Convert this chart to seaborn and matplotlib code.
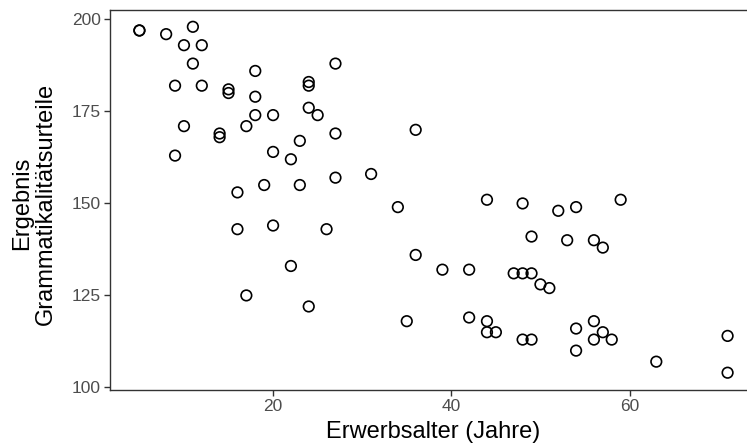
import matplotlib
matplotlib.use("Agg")
import matplotlib.pyplot as plt
import seaborn as sns
import pandas as pd

erwerbsalter = [5, 5, 8, 11, 10, 12, 11, 18, 9, 12, 15, 15, 18, 24, 24, 24, 25, 18, 20,
                10, 17, 14, 14, 23, 9, 20, 22, 16, 19, 23, 16, 20, 26, 22, 17, 24,
                27, 27, 36, 27, 31, 34, 44, 48, 49, 36, 39, 42, 47, 48, 49, 50,
                35, 42, 44, 44, 45, 48, 49, 52, 54, 59, 53, 56, 57, 51, 56, 54,
                57, 56, 58, 54, 63, 71, 71]
ergebnis = [197, 197, 196, 198, 193, 193, 188, 186, 182, 182, 181, 180, 179, 183, 182, 176, 174, 174, 174,
            171, 171, 169, 168, 167, 163, 164, 162, 153, 155, 155, 143, 144, 143, 133, 125, 122,
            188, 169, 170, 157, 158, 149, 151, 150, 141, 136, 132, 132, 131, 131, 131, 128,
            118, 119, 118, 115, 115, 113, 113, 148, 149, 151, 140, 140, 138, 127, 118, 116,
            115, 113, 113, 110, 107, 114, 104]

df = pd.DataFrame({"x": erwerbsalter, "y": ergebnis})

sns.set_theme(style="white")
plt.rcParams["font.family"] = ["Liberation Sans", "DejaVu Sans"]

fig = plt.figure(figsize=(7.47, 4.46), dpi=100)
W, H = 747, 446
left, right, top, bottom = 110, 757, 9.5, 390
ax = fig.add_axes([left / W, 1 - bottom / H, (right - left) / W, (bottom - top) / H])

sns.scatterplot(data=df, x="x", y="y", ax=ax, s=58, facecolor="none",
                edgecolor="black", linewidth=1.2, marker="o")

ax.set_xlim(1.7, 74.3)
ax.set_ylim(99.3, 202.7)
ax.set_xticks([20, 40, 60])
ax.set_yticks([100, 125, 150, 175, 200])

for sp in ["left", "bottom", "top"]:
    ax.spines[sp].set_visible(True)
    ax.spines[sp].set_color("#333333")
    ax.spines[sp].set_linewidth(1.0)
ax.spines["right"].set_visible(False)

ax.tick_params(axis="both", which="major", length=4, width=1.0, color="#333333",
               labelsize=12.5, labelcolor="#4D4D4D", pad=2.5, bottom=True, left=True)

ax.set_xlabel("Erwerbsalter (Jahre)", fontsize=17, color="black", labelpad=5)
ax.set_ylabel("Ergebnis\nGrammatikalitätsurteile", fontsize=17, color="black",
              linespacing=1.1)
ax.yaxis.set_label_coords((57 - left) / (right - left), 0.49)

fig.savefig("out.png", dpi=100)
